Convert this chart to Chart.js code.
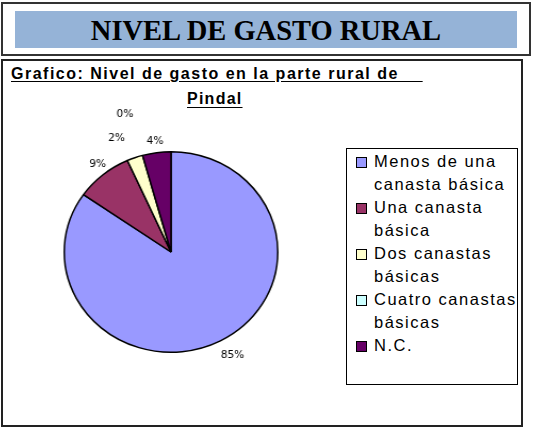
<!DOCTYPE html>
<html>
<head>
<meta charset="utf-8">
<script src="https://cdn.jsdelivr.net/npm/chart.js@4"></script>
<style>
  body { margin: 0; width: 534px; height: 436px; background: #fff; position: relative; overflow: hidden; font-family: "Liberation Sans", Arial, sans-serif; }
  #head { position: absolute; left: 1px; top: 2px; width: 526px; height: 50px; border: 2px solid #333; }
  #banner { position: absolute; left: 12px; top: 7px; width: 502px; height: 37px; background: #95b3d7; text-align: center;
            font-family: "Liberation Serif", "Times New Roman", serif; font-weight: bold; font-size: 28.5px; line-height: 39px; color: #000; }
  #box { position: absolute; left: 1px; top: 59px; width: 518px; height: 364px; border: 2px solid #222; }
  #t1 { position: absolute; left: 8px; top: 4px; font-weight: bold; font-size: 16px; letter-spacing: 1.5px; white-space: pre; text-decoration: underline; text-underline-offset: 2px; }
  #t2 { position: absolute; left: 184px; top: 29px; font-weight: bold; font-size: 16px; letter-spacing: 1.25px; text-decoration: underline; text-underline-offset: 3px; }
  #pie { position: absolute; left: 21px; top: 102px; transform: scaleX(1.065); transform-origin: 150px 150px; }
  #legend { position: absolute; left: 346px; top: 148px; width: 172px; height: 237px; border: 1.5px solid #000; box-sizing: border-box; padding-top: 1px; }
  .item { position: relative; padding-left: 27px; font-size: 16.5px; line-height: 23px; letter-spacing: 1.5px; color: #000; white-space: nowrap; }
  .sw { position: absolute; left: 9px; top: 7px; width: 9px; height: 9px; border: 1px solid #000; }
</style>
</head>
<body>
<div id="head"><div id="banner">NIVEL DE GASTO RURAL</div></div>
<div id="box">
  <div id="t1">Grafico: Nivel de gasto en la parte rural de    </div>
  <div id="t2">Pindal</div>
</div>
<canvas id="pie" width="300" height="300"></canvas>
<div id="legend"></div>
<script>
// カテゴリ
const categories = [
  ['Menos de una', 'canasta básica'],
  ['Una canasta', 'básica'],
  ['Dos canastas', 'básicas'],
  ['Cuatro canastas', 'básicas'],
  ['N.C.'],
];
// 割合（%）
const values = [84.7, 8.6, 2.4, 0, 4.3];
// 色
const colors = ['#9999ff', '#993366', '#ffffcc', '#ccffff', '#660066'];
// ラベルの位置調整（半径方向の距離, 横方向のずらし）
const labelGap = [16, 14, 21, 43, 11];
const labelNudge = [4, 4, -10, -5, 0];

// 凡例をHTMLで作成
const $legend = document.getElementById('legend');
categories.forEach((lines, i) => {
  const div = document.createElement('div');
  div.className = 'item';
  div.innerHTML = '<span class="sw" style="background:' + colors[i] + '"></span>' + lines.join('<br>');
  $legend.appendChild(div);
});

// パーセント表示ラベル
const pctLabels = {
  id: 'pctLabels',
  afterDatasetsDraw(chart) {
    const ctx = chart.ctx;
    const total = values.reduce((a, b) => a + b, 0);
    ctx.save();
    ctx.font = '10px "DejaVu Sans", Verdana, sans-serif';
    ctx.fillStyle = '#000';
    ctx.textAlign = 'center';
    ctx.textBaseline = 'middle';
    chart.getDatasetMeta(0).data.forEach((arc, i) => {
      const p = arc.getProps(['x', 'y', 'startAngle', 'endAngle', 'outerRadius'], true);
      const mid = (p.startAngle + p.endAngle) / 2;
      const r = p.outerRadius + labelGap[i];
      const text = Math.round(values[i] / total * 100) + '%';
      ctx.fillText(text, p.x + Math.cos(mid) * r + labelNudge[i], p.y + Math.sin(mid) * r);
    });
    ctx.restore();
  }
};

new Chart(document.getElementById('pie'), {
  type: 'pie',
  data: {
    labels: categories.map(l => l.join(' ')),
    datasets: [{
      data: values,
      backgroundColor: colors,
      borderColor: '#000',
      borderWidth: 1.5,
    }],
  },
  options: {
    responsive: false,
    animation: false,
    layout: { padding: 49 },
    plugins: {
      legend: { display: false },
      tooltip: { enabled: false },
    },
  },
  plugins: [pctLabels],
});
</script>
</body>
</html>
